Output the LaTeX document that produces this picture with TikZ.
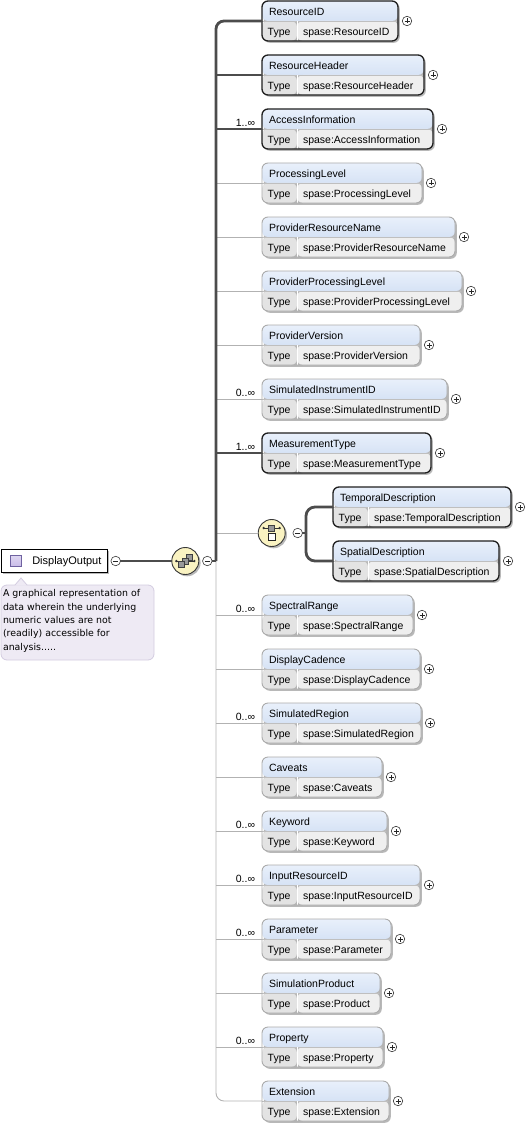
\documentclass[tikz,border=0pt]{standalone}
\usepackage{fontspec}
\setmainfont{Liberation Sans}
\newfontfamily\annfont{DejaVu Sans}
\usetikzlibrary{shadows,calc}
\definecolor{hdrtop}{HTML}{E9F0FB}
\definecolor{hdrbot}{HTML}{C3D5EF}
\definecolor{typecell}{HTML}{E3E3E3}
\definecolor{valcell}{HTML}{EFEFEF}
\definecolor{annfill}{HTML}{EEEAF4}
\definecolor{anndraw}{HTML}{D3CCE0}
\definecolor{compfill}{HTML}{FAF3C2}
\definecolor{icofill}{HTML}{C9BCE8}
\definecolor{icodraw}{HTML}{6F62A0}
\tikzset{
 every node/.style={font=\fontsize{10.5}{12.5}\selectfont, inner sep=0pt, outer sep=0pt},
 shad/.style={drop shadow={shadow xshift=1.8pt, shadow yshift=-1.8pt, fill=black, opacity=.28}},
 elfill/.style={path picture={
   \shade[top color=hdrtop,bottom color=hdrbot] (path picture bounding box.north west) rectangle (path picture bounding box.east);
   \fill[typecell] (path picture bounding box.west) rectangle ([xshift=35pt]path picture bounding box.south west);
   \fill[valcell] ([xshift=35pt]path picture bounding box.west) rectangle (path picture bounding box.south east);
   \draw[black!25, line width=.6pt] (path picture bounding box.west) -- (path picture bounding box.east);
   \draw[white, line width=1pt] ([xshift=35pt]path picture bounding box.west) -- ([xshift=35pt]path picture bounding box.south west);
 }},
 elbox/.style={rectangle, rounded corners=6pt, minimum height=40pt, anchor=west, shad, elfill},
 reqbox/.style={elbox, draw=black!88, line width=1.3pt},
 optbox/.style={elbox, draw=black!33, line width=0.9pt},
 reqline/.style={draw=black!70, line width=2.8pt},
 optline/.style={draw=black!30, line width=0.9pt},
 multlab/.style={anchor=base east, font=\fontsize{10.5}{12}\selectfont},
 pmbase/.style={circle, draw=black!78, fill=white, line width=.6pt, minimum size=9.5pt},
 plusnode/.style={pmbase, path picture={
   \draw[black!85, line width=.7pt] ([xshift=-2.5pt]path picture bounding box.center) -- ([xshift=2.5pt]path picture bounding box.center);
   \draw[black!85, line width=.7pt] ([yshift=-2.5pt]path picture bounding box.center) -- ([yshift=2.5pt]path picture bounding box.center);}},
 minusnode/.style={pmbase, path picture={
   \draw[black!85, line width=.7pt] ([xshift=-2.5pt]path picture bounding box.center) -- ([xshift=2.5pt]path picture bounding box.center);}},
 compnode/.style={circle, minimum size=27pt, draw=black!78, line width=.9pt, fill=compfill, shad},
 seqicon/.style={path picture={
   \coordinate (c) at (path picture bounding box.center);
   \draw[black!80, line width=.8pt] ([shift={(-9,0)}]c) -- ([shift={(9,0)}]c);
   \fill[black!80] ([shift={(-9,0)}]c) circle (1.3pt) ([shift={(9,0)}]c) circle (1.3pt);
   \filldraw[fill=black!40, draw=black!75, line width=.5pt] ([shift={(1,-6.5)}]c) rectangle ([shift={(7,-0.5)}]c);
   \filldraw[fill=black!40, draw=black!75, line width=.5pt] ([shift={(-3,-3)}]c) rectangle ([shift={(3,3)}]c);
   \filldraw[fill=black!40, draw=black!75, line width=.5pt] ([shift={(-7,0.5)}]c) rectangle ([shift={(-1,6.5)}]c);
 }},
 choiceicon/.style={path picture={
   \coordinate (c) at (path picture bounding box.center);
   \draw[black!80, line width=.8pt] ([shift={(-8,-5)}]c) -- ([shift={(8,-5)}]c);
   \fill[black!80] ([shift={(-8,-5)}]c) circle (1.3pt) ([shift={(8,-5)}]c) circle (1.3pt);
   \filldraw[fill=black!40, draw=black!75, line width=.5pt] ([shift={(-3,-8)}]c) rectangle ([shift={(3,-2)}]c);
   \filldraw[fill=white, draw=black!85, line width=.8pt] ([shift={(-3.2,0.8)}]c) rectangle ([shift={(3.2,7.3)}]c);
 }},
}
\newcommand\Elem[7]{%
 \node[#7, minimum width={#4-#2}] (#1) at (#2,#3) {};
 \node[anchor=base west] (#1-t) at ($(#1.west)+(7,-5.3)$) {#5};
 \node[anchor=base west] (#1-k) at ($(#1.west)+(5.7,14.7)$) {Type};
 \node[anchor=base west] (#1-v) at ($(#1.west)+(41,14.7)$) {#6};
 \node[plusnode] (#1-p) at ($(#1.east)+(9,0)$) {};
}
\begin{document}
\begin{tikzpicture}[x=1pt,y=-1pt]
\useasboundingbox (0,0) rectangle (528,1126);
% compositors
\node[compnode, seqicon] (seq) at (185.3,561) {};
\node[minusnode] (seqm) at (207.3,561) {};
\coordinate (sp) at (216,561);
\node[compnode, choiceicon] (ch) at (271.7,533) {};
\node[minusnode] (chm) at (297.7,533) {};
\coordinate (chb) at (306,533);
% root element
\node[draw=black, line width=1.3pt, fill=white, minimum width=106pt, minimum height=23pt, anchor=west, shad] (DO) at (1.3,561) {};
\node[draw=icodraw, line width=.6pt, minimum size=11.5pt, top color=icofill!60!white, bottom color=icofill] (DOi) at (16,561) {};
\node[anchor=base west, font=\fontsize{11}{13}\selectfont] (DOt) at (32.3,564.6) {DisplayOutput};
\node[minusnode] (DOm) at (115.7,561) {};
% annotation
\draw[fill=annfill, draw=anndraw, line width=.8pt, rounded corners=6pt] (1,585) rectangle (154,660);
\fill[annfill] (15,585.5) -- (21,578) -- (27,585.5) -- cycle;
\draw[anndraw, line width=.8pt] (15,585) -- (21,578) -- (27,585);
\node[anchor=north west, align=left, font=\annfont\fontsize{9.4}{13.3}\selectfont] (ann) at (3,589.8)
 {A graphical representation of\\data wherein the underlying\\numeric values are not\\(readily) accessible for\\analysis.....};
% children
\Elem{RID}{262}{21}{398}{ResourceID}{spase:ResourceID}{reqbox}
\Elem{RH}{262}{75}{424}{ResourceHeader}{spase:ResourceHeader}{reqbox}
\Elem{AI}{262}{129}{433}{AccessInformation}{spase:AccessInformation}{reqbox}
\Elem{PL}{262}{183}{422}{ProcessingLevel}{spase:ProcessingLevel}{optbox}
\Elem{PRN}{262}{237}{455}{ProviderResourceName}{spase:ProviderResourceName}{optbox}
\Elem{PPL}{262}{291}{462}{ProviderProcessingLevel}{spase:ProviderProcessingLevel}{optbox}
\Elem{PV}{262}{345}{420}{ProviderVersion}{spase:ProviderVersion}{optbox}
\Elem{SII}{262}{399}{447}{SimulatedInstrumentID}{spase:SimulatedInstrumentID}{optbox}
\Elem{MT}{262}{453}{431}{MeasurementType}{spase:MeasurementType}{reqbox}
\Elem{TD}{333}{507}{511}{TemporalDescription}{spase:TemporalDescription}{reqbox}
\Elem{SD}{333}{561}{499}{SpatialDescription}{spase:SpatialDescription}{reqbox}
\Elem{SR}{262}{615}{413}{SpectralRange}{spase:SpectralRange}{optbox}
\Elem{DC}{262}{669}{420}{DisplayCadence}{spase:DisplayCadence}{optbox}
\Elem{SRG}{262}{723}{421}{SimulatedRegion}{spase:SimulatedRegion}{optbox}
\Elem{CV}{262}{777}{382}{Caveats}{spase:Caveats}{optbox}
\Elem{KW}{262}{831}{387}{Keyword}{spase:Keyword}{optbox}
\Elem{IRI}{262}{885}{420}{InputResourceID}{spase:InputResourceID}{optbox}
\Elem{PA}{262}{939}{391}{Parameter}{spase:Parameter}{optbox}
\Elem{SP}{262}{993}{380}{SimulationProduct}{spase:Product}{optbox}
\Elem{PR}{262}{1047}{383}{Property}{spase:Property}{optbox}
\Elem{EX}{262}{1101}{389}{Extension}{spase:Extension}{optbox}
% multiplicities
\foreach \n/\m in {AI/1..∞, SII/0..∞, MT/1..∞, SR/0..∞, SRG/0..∞, KW/0..∞, IRI/0..∞, PA/0..∞, PR/0..∞}
  \node[multlab] (\n-m) at ($(\n.west)+(-7,-2.5)$) {\m};
% thin connectors
\draw[optline, rounded corners=8pt] (sp) |- (EX.west);
\foreach \n in {PL,PRN,PPL,PV,SII,SR,DC,SRG,CV,KW,IRI,PA,SP,PR}
  \draw[optline] (sp |- \n.west) -- (\n.west);
\draw[optline] (sp |- ch.west) -- (ch.west);
% thick connectors
\draw[black!70, line width=1.8pt] (DOm.east) -- (seq.west);
\draw[reqline] (seqm.east) -- (sp);
\draw[reqline, rounded corners=8pt] (sp) |- (RID.west);
\foreach \n in {RH,AI,MT}
  \draw[reqline] (sp |- \n.west) -- (\n.west);
\draw[reqline] (chm.east) -- (chb);
\draw[reqline, rounded corners=9pt] (chb) |- (TD.west);
\draw[reqline, rounded corners=9pt] (chb) |- (SD.west);
\end{tikzpicture}
\end{document}
